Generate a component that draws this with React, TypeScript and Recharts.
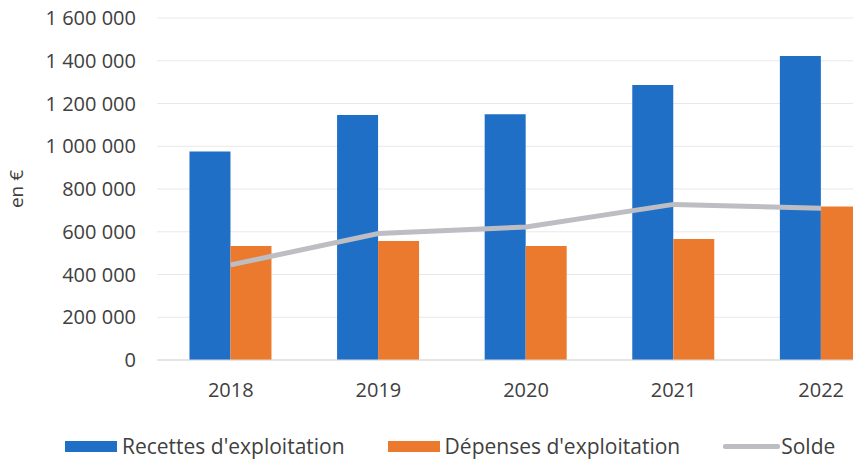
import React from "react";
import {
  ComposedChart,
  Bar,
  Line,
  XAxis,
  YAxis,
  CartesianGrid,
  Legend,
} from "recharts";

const years = ["2018", "2019", "2020", "2021", "2022"];
const recettes = [975000, 1146000, 1150000, 1287000, 1422000];
const depenses = [533000, 557000, 533000, 566000, 718000];
const solde = [445000, 592000, 622000, 728000, 710000];
const yTicks = [0, 200000, 400000, 600000, 800000, 1000000, 1200000, 1400000, 1600000];

const SERIES_NAMES = {
  recettes: "Recettes d'exploitation",
  depenses: "Dépenses d'exploitation",
  solde: "Solde",
};

const data = years.map((y, i) => ({
  year: y,
  recettes: recettes[i],
  depenses: depenses[i],
  solde: solde[i],
}));

const BLUE = "#1f6fc6";
const ORANGE = "#ec7a2e";
const GREY = "#bdbdc4";
const TEXT = "#404040";
const FONT = "'Open Sans', sans-serif";

const fmt = (v: number) =>
  String(v).replace(/\B(?=(\d{3})+(?!\d))/g, " ");

const YLabel = (props: any) => {
  const vb = props.viewBox || {};
  const cx = 16;
  const cy = vb.y + vb.height / 2;
  return (
    <text
      x={cx}
      y={cy}
      transform={`rotate(-90, ${cx}, ${cy})`}
      textAnchor="middle"
      dominantBaseline="central"
      fill={TEXT}
      fontSize={19}
      fontFamily={FONT}
    >
      en €
    </text>
  );
};

const LegendContent = (props: any) => {
  const payload = props.payload || [];
  const find = (k: string) => payload.find((p: any) => p.dataKey === k);
  const items = ["recettes", "depenses", "solde"].map((k) => find(k)).filter(Boolean);
  return (
    <div
      style={{
        display: "flex",
        alignItems: "center",
        fontFamily: FONT,
        fontSize: 21,
        lineHeight: "26px",
        color: TEXT,
        whiteSpace: "nowrap",
      }}
    >
      {items.map((it: any, idx: number) => {
        const isLine = it.dataKey === "solde";
        return (
          <div
            key={it.dataKey}
            style={{ display: "flex", alignItems: "center", marginRight: idx < 2 ? 43 : 0 }}
          >
            <div
              style={{
                width: isLine ? 57 : 52,
                height: isLine ? 5 : 11,
                background: it.color,
                marginRight: isLine ? 1 : 5,
                borderRadius: isLine ? 2 : 0,
              }}
            />
            <span>{it.value}</span>
          </div>
        );
      })}
    </div>
  );
};

export default function App() {
  return (
    <div
      style={{
        position: "absolute",
        top: 0,
        left: 0,
        width: 853,
        height: 460,
        overflow: "hidden",
        background: "#ffffff",
      }}
    >
      <ComposedChart
        width={895}
        height={460}
        data={data}
        margin={{ top: 18, right: 0, left: 0, bottom: 0 }}
        barCategoryGap="22%"
        barGap={0}
      >
        <CartesianGrid vertical={false} stroke="#e8e8e8" />
        <XAxis
          dataKey="year"
          axisLine={{ stroke: "#d9d9d9" }}
          tickLine={false}
          tickMargin={17}
          height={74}
          tick={{ fill: TEXT, fontSize: 20, fontFamily: FONT }}
        />
        <YAxis
          width={157}
          domain={[0, 1600000]}
          ticks={yTicks}
          interval={0}
          tickFormatter={fmt}
          axisLine={false}
          tickLine={false}
          tickMargin={15}
          tick={{ fill: TEXT, fontSize: 20, fontFamily: FONT }}
          label={<YLabel />}
        />
        <Legend
          verticalAlign="bottom"
          content={<LegendContent />}
          wrapperStyle={{ position: "absolute", top: 433, left: 65, width: 780 }}
        />
        <Bar
          dataKey="recettes"
          name={SERIES_NAMES.recettes}
          fill={BLUE}
          isAnimationActive={false}
        />
        <Bar
          dataKey="depenses"
          name={SERIES_NAMES.depenses}
          fill={ORANGE}
          isAnimationActive={false}
        />
        <Line
          dataKey="solde"
          name={SERIES_NAMES.solde}
          type="linear"
          stroke={GREY}
          strokeWidth={5}
          dot={false}
          activeDot={false}
          isAnimationActive={false}
        />
      </ComposedChart>
    </div>
  );
}
